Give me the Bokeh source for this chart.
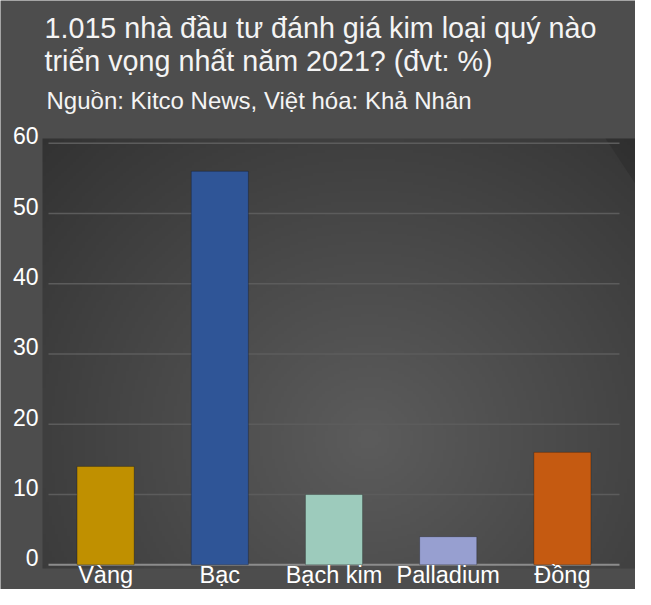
import numpy as np
from bokeh.plotting import figure
from bokeh.models import Range1d
from bokeh.core.properties import value
from bokeh.embed import file_html
from bokeh.resources import INLINE

# ---- data ----
categories = ["Vàng", "Bạc", "Bạch kim", "Palladium", "Đồng"]
values = [14, 56, 10, 4, 16]
colors = ["#C09000", "#2F5597", "#9DCBBC", "#979FD0", "#C55A11"]
y_ticks = [0, 10, 20, 30, 40, 50, 60]
title_lines = ["1.015 nhà đầu tư đánh giá kim loại quý nào",
               "triển vọng nhất năm 2021? (đvt: %)"]
subtitle = "Nguồn: Kitco News, Việt hóa: Khả Nhân"

FONT = "Liberation Sans"
BG = "#4d4d4d"
W, H = 635, 589
SHIFT = 0.4   # baseline correction (fraction of font size)

# pixel layout (figure pixels, y from top)
X0PX, XS = 48.0, 114.2      # px of category origin, px per category
Y0PX, YS = 564.3, 7.027     # px of value 0, px per unit


def dx(px):
    return (px - X0PX) / XS


def dy(py):
    return (Y0PX - py) / YS


p = figure(width=W, height=H, output_backend="svg", toolbar_location=None,
           x_range=Range1d(dx(0), dx(W)), y_range=Range1d(dy(H), dy(0)),
           x_axis_type=None, y_axis_type=None, min_border=0)
p.background_fill_color = BG
p.border_fill_color = BG
p.outline_line_color = None
p.grid.visible = False

# plot-area box with gradient
bx0, bx1, by0, by1 = dx(42), dx(636), dy(568), dy(138)
nx, ny = 200, 150
u = np.linspace(0, 1, nx)[None, :]
v = np.linspace(0, 1, ny)[:, None]
r = np.sqrt(((u - 0.55) / 0.65) ** 2 + ((v - 0.3) / 0.85) ** 2)
g = (92 - 42 * np.clip(r, 0, 1.2) / 1.2).astype(np.uint8)
img = np.empty((ny, nx), dtype=np.uint32)
view = img.view(dtype=np.uint8).reshape((ny, nx, 4))
view[:, :, 0] = g
view[:, :, 1] = g
view[:, :, 2] = g
view[:, :, 3] = 255
p.image_rgba(image=[img], x=bx0, y=by0, dw=bx1 - bx0, dh=by1 - by0)
# small darker fold at the top-right corner
p.patch(x=[dx(605), bx1, bx1], y=[by1, by1, dy(185)], fill_color="#000000",
        fill_alpha=0.12, line_color=None)

# gridlines and baseline
n = len(categories)
grid_y = [t for t in y_ticks if t > 0]
p.segment(x0=[0] * len(grid_y), x1=[n] * len(grid_y), y0=grid_y, y1=grid_y,
          line_color="#5c5c5c", line_width=1.5)
p.segment(x0=[0], x1=[n], y0=[0], y1=[0], line_color="#8c8c8c", line_width=2)

# bars
xs = [i + 0.5 for i in range(n)]
p.vbar(x=xs, top=values, width=0.5, bottom=0, fill_color=colors,
       line_color="#000000", line_alpha=0.25, line_width=1)


def txt(x, y, t, fs, color, align, extra=0):
    p.text(x=x, y=y, text=t, text_font=value(FONT),
           text_font_size=value(f"{fs}px"), text_color=color,
           text_align=align, text_baseline="alphabetic",
           y_offset=extra - SHIFT * fs)


# y tick labels
txt([dx(38)] * len(y_ticks), y_ticks, [str(t) for t in y_ticks], 23, "#ffffff", "right", 2)

# x tick labels
txt(xs, [dy(584)] * n, categories, 23.5, "#ffffff", "center")

# titles
txt([dx(44)] * 2, [dy(39), dy(72)], title_lines, 28.7, "#f4f4f4", "left")
txt([dx(46)], [dy(110)], [subtitle], 24, "#f4f4f4", "left")

open("out.html", "w").write(file_html(p, INLINE))
